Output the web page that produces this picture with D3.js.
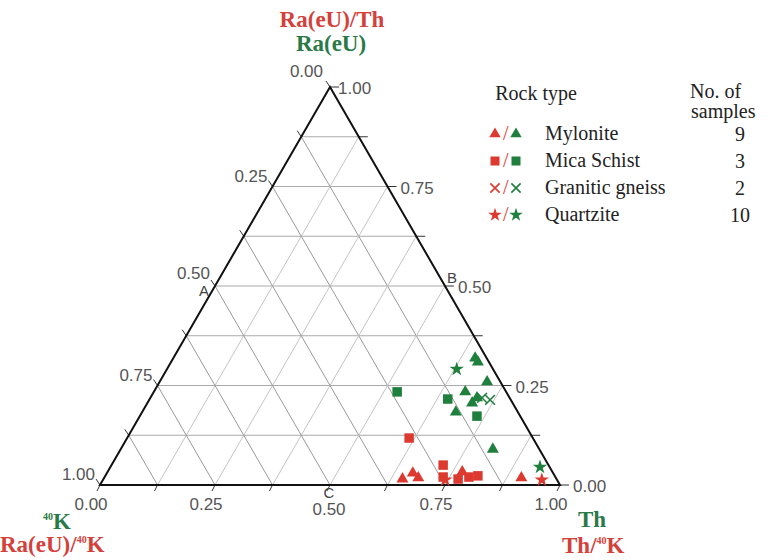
<!DOCTYPE html>
<html><head><meta charset="utf-8">
<script src="https://cdn.jsdelivr.net/npm/d3@7"></script>
<style>
html,body{margin:0;padding:0;background:#fff;}
svg{display:block;}
.tick{font-family:"Liberation Sans",Arial,sans-serif;font-size:17px;fill:#555;}
.let{font-family:"Liberation Sans",Arial,sans-serif;font-size:15px;fill:#444;}
.leg{font-family:"Liberation Serif","Times New Roman",serif;font-size:20px;fill:#222;}
.ttl{font-family:"Liberation Serif","Times New Roman",serif;font-size:23px;font-weight:bold;}
</style></head>
<body>
<svg id="chart" width="773" height="560"></svg>
<script>
// ---- data ----
const rockTypes = ["Mylonite", "Mica Schist", "Granitic gneiss", "Quartzite"];
const markerShapes = ["triangle", "square", "cross", "star"];
const sampleCounts = ["9", "3", "2", "10"];
const gridSteps = [0.125, 0.25, 0.375, 0.5, 0.625, 0.75, 0.875];
const majorTicks = [0, 0.25, 0.5, 0.75, 1];
const bottomTickLabels = ["0.00", "0.25", "0.50", "0.75", "1.00"];
const rightTickLabels = ["0.00", "0.25", "0.50", "0.75", "1.00"];
const leftTickLabels = ["1.00", "0.75", "0.50", "0.25", "0.00"];

// Green series: Ra(eU) - Th - 40K  (th = Th fraction, ra = Ra fraction)
const greenShape = ["square","square","square",
  "triangle","triangle","triangle","triangle","triangle","triangle","triangle","triangle",
  "cross","cross","star","star"];
const greenTh = [0.529,0.648,0.733, 0.656,0.667,0.712,0.677,0.710,0.706,0.682,0.809, 0.721,0.741, 0.630,0.934];
const greenRa = [0.234,0.216,0.173, 0.319,0.309,0.259,0.234,0.219,0.206,0.183,0.090, 0.219,0.214, 0.291,0.045];

// Red series: Ra(eU)/Th - Th/40K - Ra(eU)/40K
const redShape = ["square","square","square","square","square","square",
  "triangle","triangle","triangle","triangle","triangle","star","star"];
const redTh = [0.613,0.721,0.736,0.771,0.792,0.810, 0.665,0.683,0.650,0.771,0.907, 0.954,0.744];
const redRa = [0.118,0.050,0.020,0.015,0.020,0.023, 0.030,0.018,0.015,0.033,0.018, 0.013,0.013];

// ---- drawing ----
const RED = "#dc3a30", GREEN = "#1f7f3c", TRED = "#d4403a", TGREEN = "#2a7a48";
const svg = d3.select("#chart");
const xS = d3.scaleLinear().domain([0, 1]).range([100, 560]);
const yS = d3.scaleLinear().domain([0, 1]).range([485, 87]);
const px = (th, ra) => xS(th + ra / 2);
const py = (th, ra) => yS(ra);
const line = d3.line();

// grid
const g = svg.append("g");
gridSteps.forEach(t => {
  g.append("path").attr("d", line([[px(0, t), py(0, t)], [px(1 - t, t), py(1 - t, t)]]))
    .attr("stroke", "#aaa").attr("stroke-width", 1).attr("fill", "none");
  g.append("path").attr("d", line([[px(t, 0), py(t, 0)], [px(t, 1 - t), py(t, 1 - t)]]))
    .attr("stroke", "#c4c4c4").attr("stroke-width", 1).attr("fill", "none");
  g.append("path").attr("d", line([[px(1 - t, 0), py(1 - t, 0)], [px(0, 1 - t), py(0, 1 - t)]]))
    .attr("stroke", "#999").attr("stroke-width", 1).attr("fill", "none");
});

// ticks
const allTicks = [0, 0.125, 0.25, 0.375, 0.5, 0.625, 0.75, 0.875, 1];
allTicks.forEach(t => {
  const rx = px(1 - t, t), ry = py(1 - t, t);
  g.append("path").attr("d", line([[rx, ry], [rx + 9, ry]])).attr("stroke", "#333").attr("stroke-width", 1);
  const lx = px(0, t), ly = py(0, t);
  g.append("path").attr("d", line([[lx, ly], [lx - 4, ly - 6]])).attr("stroke", "#333").attr("stroke-width", 1);
  const bx = px(t, 0), by = py(t, 0);
  g.append("path").attr("d", line([[bx, by], [bx - 3, by + 6]])).attr("stroke", "#333").attr("stroke-width", 1);
});

// triangle outline
g.append("path").attr("d", line([[px(0, 0), py(0, 0)], [px(1, 0), py(1, 0)], [px(0, 1), py(0, 1)]]) + "Z")
  .attr("stroke", "#111").attr("stroke-width", 2).attr("fill", "none").attr("stroke-linejoin", "miter");

// tick labels
majorTicks.forEach((t, i) => {
  const bx = px(t, 0), by = py(t, 0);
  g.append("text").attr("class", "tick").attr("text-anchor", "middle")
    .attr("x", t === 0.5 ? bx - 1 : bx - 9).attr("y", t === 0.5 ? by + 30 : by + 25).text(bottomTickLabels[i]);
  const rx = px(1 - t, t), ry = py(1 - t, t);
  g.append("text").attr("class", "tick").attr("x", t === 1 ? rx + 8 : rx + 13).attr("y", ry + 7).text(rightTickLabels[i]);
  const lx = px(0, t), ly = py(0, t);
  g.append("text").attr("class", "tick").attr("text-anchor", "end")
    .attr("x", t === 1 ? lx - 7 : lx - 5).attr("y", t === 1 ? ly - 10 : (t === 0.5 ? ly - 7 : ly - 5)).text(leftTickLabels[i]);
});

// A, B, C letters
g.append("text").attr("class", "let").attr("text-anchor", "end").attr("x", px(0, 0.5) - 6).attr("y", py(0, 0.5) + 10).text("A");
g.append("text").attr("class", "let").attr("x", px(0.5, 0.5) + 2).attr("y", py(0.5, 0.5) - 3).text("B");
g.append("text").attr("class", "let").attr("text-anchor", "middle").attr("x", px(0.5, 0) - 1).attr("y", py(0.5, 0) + 13).text("C");

// symbols
function symPath(shape) {
  if (shape === "triangle") return d3.symbol(d3.symbolTriangle, 62)();
  if (shape === "square") return d3.symbol(d3.symbolSquare, 90)();
  if (shape === "star") return d3.symbol(d3.symbolStar, 64)();
  return d3.symbol(d3.symbolX, 64)();
}
function drawSym(parent, shape, x, y, color, scale) {
  scale = scale || 1;
  const p = parent.append("path").attr("d", symPath(shape))
    .attr("transform", `translate(${x},${y}) scale(${scale})`);
  if (shape === "cross") p.attr("fill", "none").attr("stroke", color).attr("stroke-width", 1.6 / scale);
  else p.attr("fill", color).attr("stroke", "none");
}
const pts = svg.append("g");
redTh.forEach((th, i) => drawSym(pts, redShape[i], px(th, redRa[i]), py(th, redRa[i]), RED));
greenTh.forEach((th, i) => drawSym(pts, greenShape[i], px(th, greenRa[i]), py(th, greenRa[i]), GREEN));

// axis titles
svg.append("text").attr("class", "ttl").attr("fill", TRED).attr("text-anchor", "middle").attr("x", 332).attr("y", 27).text("Ra(eU)/Th");
svg.append("text").attr("class", "ttl").attr("fill", TGREEN).attr("text-anchor", "middle").attr("x", 331).attr("y", 51).text("Ra(eU)");
const k1 = svg.append("text").attr("class", "ttl").attr("fill", TGREEN).attr("x", 43).attr("y", 529);
k1.append("tspan").attr("font-size", 10).attr("dy", -9).text("40");
k1.append("tspan").attr("dy", 9).text("K");
const k2 = svg.append("text").attr("class", "ttl").attr("fill", TRED).attr("x", 0).attr("y", 552);
k2.append("tspan").text("Ra(eU)/");
k2.append("tspan").attr("font-size", 10).attr("dy", -9).text("40");
k2.append("tspan").attr("dy", 9).text("K");
svg.append("text").attr("class", "ttl").attr("fill", TGREEN).attr("x", 578).attr("y", 527).text("Th");
const t2 = svg.append("text").attr("class", "ttl").attr("fill", TRED).attr("x", 562).attr("y", 553);
t2.append("tspan").text("Th/");
t2.append("tspan").attr("font-size", 10).attr("dy", -9).text("40");
t2.append("tspan").attr("dy", 9).text("K");

// legend
const leg = svg.append("g");
leg.append("text").attr("class", "leg").attr("text-anchor", "middle").attr("x", 536).attr("y", 100).text("Rock type");
leg.append("text").attr("class", "leg").attr("x", 690).attr("y", 98).text("No. of");
leg.append("text").attr("class", "leg").attr("x", 691).attr("y", 118).text("samples");
rockTypes.forEach((name, i) => {
  const y = 134 + i * 27;
  drawSym(leg, markerShapes[i], 495, y, RED, 0.95);
  leg.append("text").attr("class", "leg").attr("x", 503).attr("y", y + 6).style("fill", RED).text("/");
  drawSym(leg, markerShapes[i], 516, y, GREEN, 0.95);
  leg.append("text").attr("class", "leg").attr("x", 545).attr("y", y + 6).text(name);
  leg.append("text").attr("class", "leg").attr("text-anchor", "middle").attr("x", 740).attr("y", y + 7).text(sampleCounts[i]);
});
</script>
</body></html>
